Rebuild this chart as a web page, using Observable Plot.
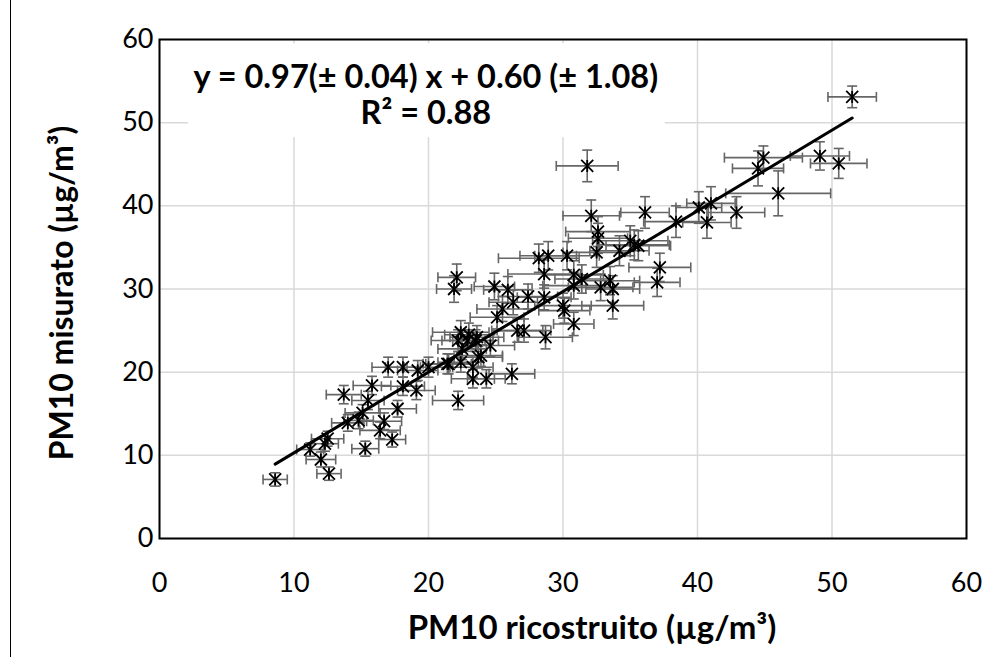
<!DOCTYPE html>
<html><head><meta charset="utf-8">
<script src="https://cdn.jsdelivr.net/npm/d3@7"></script>
<script src="https://cdn.jsdelivr.net/npm/@observablehq/plot@0.6"></script>
<style>
body{margin:0;background:#fff;}
#chart{position:relative;width:998px;height:657px;overflow:hidden;}
#edge{position:absolute;left:10px;top:0;width:1px;height:657px;background:#000;}
</style></head><body><div id="chart"><div id="edge"></div></div>
<script>
// PM10 ricostruito (x) and PM10 misurato (y), µg/m³
const pmRicostruito = [8.6,11.2,12.0,12.6,12.3,12.5,13.7,14.0,14.8,15.1,15.5,15.8,15.3,16.4,16.7,17.3,17.7,18.1,19.1,17.0,
  18.1,19.2,20.0,21.4,22.2,22.4,23.3,23.3,24.3,26.2,22.5,23.9,22.2,22.9,23.5,23.6,24.6,22.4,23.0,25.1,
  25.5,26.3,26.6,27.1,28.7,27.4,28.6,30.0,30.1,30.8,22.1,21.9,24.9,25.9,28.2,28.9,30.3,28.6,30.8,31.4,
  30.8,32.8,32.1,32.6,32.6,32.5,31.8,33.5,33.7,33.7,34.2,35.0,35.6,35.3,37.2,37.0,36.1,38.4,40.1,41.0,
  40.7,42.9,44.5,44.9,46.0,49.1,50.5,51.5,21.5,23.7];
const pmMisurato = [7.1,10.7,9.5,7.8,11.4,12.0,17.3,13.9,14.2,15.1,16.6,18.4,10.8,13.0,14.1,11.9,15.6,18.3,17.8,20.6,
  20.6,20.2,20.6,21.0,16.6,21.2,20.6,19.2,19.2,19.8,22.8,22.0,23.8,23.8,23.8,24.2,23.2,24.8,24.5,26.6,
  27.6,28.4,25.0,25.0,24.2,29.1,29.0,28.0,27.4,25.8,31.4,30.0,30.3,29.9,33.7,34.0,34.0,31.8,31.7,31.2,
  30.4,30.2,38.8,36.9,36.1,34.4,44.8,31.0,30.0,28.0,34.6,35.8,35.2,35.3,32.6,30.8,39.2,38.1,39.8,40.3,
  38.0,39.2,44.5,45.8,41.5,46.0,45.1,53.1,21.0,21.8];
const errRicostruito = [0.9,1.0,1.1,0.9,1.0,1.2,1.3,1.2,1.1,1.3,1.2,1.4,1.0,1.5,1.3,1.0,1.4,1.6,1.4,1.2,
  1.3,1.5,1.6,1.8,1.9,1.7,1.5,1.6,1.4,1.7,1.8,1.6,2.0,1.9,1.7,2.0,1.8,2.1,1.8,2.0,
  1.9,1.8,1.9,2.0,2.0,2.2,2.0,2.1,1.9,1.5,1.4,1.3,1.5,1.8,3.0,2.1,2.4,2.7,2.2,2.0,
  2.3,2.4,2.1,2.4,2.2,2.5,2.3,2.2,2.0,2.3,2.2,2.8,2.4,2.6,2.3,1.7,1.8,2.4,1.7,1.8,
  1.8,2.1,1.9,2.9,3.9,2.2,2.1,1.8,1.7,1.8];
const errMisurato = [0.8,0.8,0.9,0.8,0.9,0.9,1.1,1.0,1.0,1.0,1.1,1.1,0.9,1.0,1.0,0.9,1.0,1.1,1.1,1.2,
  1.2,1.2,1.2,1.2,1.1,1.2,1.2,1.1,1.1,1.2,1.3,1.3,1.3,1.3,1.3,1.4,1.3,1.4,1.4,1.4,
  1.5,1.5,1.4,1.4,1.4,1.5,1.5,1.5,1.5,1.4,1.6,1.6,1.6,1.6,1.7,1.7,1.7,1.7,1.7,1.7,
  1.6,1.6,1.9,1.8,1.8,1.8,1.9,1.7,1.6,1.6,1.8,1.8,1.8,1.8,1.7,1.7,1.9,1.9,1.9,2.0,
  1.9,1.9,2.1,1.4,2.7,1.7,1.8,1.3,1.2,1.3];

const slope = 0.97, intercept = 0.60;
const xTicks = [0,10,20,30,40,50,60];
const yTicks = [0,10,20,30,40,50,60];
const equationLines = ["y = 0.97(± 0.04) x + 0.60 (± 1.08)", "R² = 0.88"];
const xTitle = "PM10 ricostruito (µg/m³)";
const yTitle = "PM10 misurato (µg/m³)";

const data = pmRicostruito.map((x, i) => ({x, y: pmMisurato[i], xe: errRicostruito[i], ye: errMisurato[i]}));
const fit = d3.extent(pmRicostruito).map(x => ({x, y: slope * x + intercept}));

const rad = s => Math.sqrt(s / Math.PI);
const vbar = {draw(c, s){ const r = rad(s); c.moveTo(0,-r); c.lineTo(0,r); }};
const hbar = {draw(c, s){ const r = rad(s); c.moveTo(-r,0); c.lineTo(r,0); }};
const star = {draw(c, s){ const r = rad(s); c.moveTo(-r,-r); c.lineTo(r,r); c.moveTo(-r,r); c.lineTo(r,-r); c.moveTo(0,-r); c.lineTo(0,r); }};

const errColor = "#666666";
const chart = Plot.plot({
  width: 998, height: 657,
  marginLeft: 159, marginRight: 32, marginTop: 39, marginBottom: 119,
  style: {fontFamily: "Lato, 'Open Sans', sans-serif", fontSize: "27px", color: "#000", background: "transparent"},
  x: {domain: [0, 60], ticks: xTicks, tickSize: 0, tickPadding: 34, label: null},
  y: {domain: [0, 60], ticks: yTicks, tickSize: 0, tickPadding: 6, label: null},
  marks: [
    Plot.ruleX(xTicks, {stroke: "#d9d9d9", strokeWidth: 1.5}),
    Plot.ruleY(yTicks, {stroke: "#d9d9d9", strokeWidth: 1.5}),
    Plot.rect([0], {x1: () => 2.16, x2: () => 37.6, y1: () => 48.2, y2: () => 59.5, fill: "white"}),
    Plot.ruleY(data, {y: "y", x1: d => d.x - d.xe, x2: d => d.x + d.xe, stroke: errColor, strokeWidth: 1.6}),
    Plot.ruleX(data, {x: "x", y1: d => d.y - d.ye, y2: d => d.y + d.ye, stroke: errColor, strokeWidth: 1.6}),
    Plot.dot(data, {x: d => d.x - d.xe, y: "y", symbol: vbar, r: 5, stroke: errColor, strokeWidth: 1.6}),
    Plot.dot(data, {x: d => d.x + d.xe, y: "y", symbol: vbar, r: 5, stroke: errColor, strokeWidth: 1.6}),
    Plot.dot(data, {x: "x", y: d => d.y - d.ye, symbol: hbar, r: 5, stroke: errColor, strokeWidth: 1.6}),
    Plot.dot(data, {x: "x", y: d => d.y + d.ye, symbol: hbar, r: 5, stroke: errColor, strokeWidth: 1.6}),
    Plot.line(fit, {x: "x", y: "y", stroke: "black", strokeWidth: 3}),
    Plot.dot(data, {x: "x", y: "y", symbol: star, r: 6, stroke: "black", strokeWidth: 1.8}),
    Plot.text([equationLines[0]], {x: () => 19.8, y: () => 55.4, fontWeight: "bold", fontSize: 32.5, fill: "black"}),
    Plot.text([equationLines[1]], {x: () => 19.8, y: () => 51.1, fontWeight: "bold", fontSize: 32.5, fill: "black"}),
    Plot.text([xTitle], {frameAnchor: "bottom", dx: 29, dy: 90, lineAnchor: "middle", textAnchor: "middle", fontWeight: "bold", fontSize: 33, fill: "black"}),
    Plot.text([yTitle], {frameAnchor: "left", dx: -97, dy: 4, rotate: -90, lineAnchor: "middle", textAnchor: "middle", fontWeight: "bold", fontSize: 32, fill: "black"}),
    Plot.frame({stroke: "black", strokeWidth: 2})
  ]
});
document.getElementById("chart").appendChild(chart);
</script></body></html>
